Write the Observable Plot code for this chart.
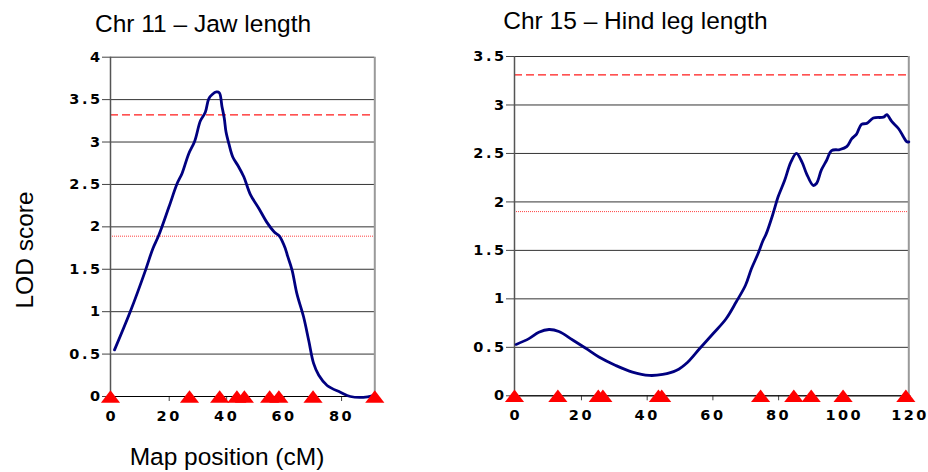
<!DOCTYPE html>
<html>
<head>
<meta charset="utf-8">
<script src="https://cdn.jsdelivr.net/npm/d3@7"></script>
<script src="https://cdn.jsdelivr.net/npm/@observablehq/plot@0.6"></script>
<style>
  body { margin: 0; background: #fff; }
  #wrap { position: relative; width: 928px; height: 472px; overflow: hidden; background: #fff; }
  .panel { position: absolute; top: 0; }
  .panel svg { overflow: visible; }
  .panel svg text { letter-spacing: 2.5px; }
  #labels { position: absolute; left: 0; top: 0; font-family: "Liberation Sans", Arial, sans-serif; }
</style>
</head>
<body>
<div id="wrap">
  <svg id="labels" width="928" height="472">
    <text x="95" y="31.7" font-size="24.5">Chr 11 – Jaw length</text>
    <text x="503.3" y="29.3" font-size="24.5">Chr 15 – Hind leg length</text>
    <text x="227" y="465" font-size="24.5" text-anchor="middle">Map position (cM)</text>
    <text transform="translate(33.3,250) rotate(-90)" font-size="24.5" text-anchor="middle">LOD score</text>
  </svg>
  <div class="panel" id="p1" style="left:0px"></div>
  <div class="panel" id="p2" style="left:464px"></div>
</div>
<script>
// ---- Chr 11 – Jaw length ----
const jawPos = [1.4, 7.0, 12.2, 14.7, 16.8, 20.3, 23.2, 24.9, 27.2, 29.3, 31.3, 33.0, 34.2, 35.4, 36.9, 37.9, 38.8, 39.6, 40.2, 41.2, 42.6, 44.4, 46.4, 48.7, 51.6, 54.5, 57.0, 58.8, 60.9, 61.6, 63.2, 64.9, 67.2, 69.0, 70.7, 72.5, 75.4, 80.0, 83.5, 88.0, 91.5];
const jawLod = [0.55, 1.01, 1.49, 1.74, 1.90, 2.23, 2.51, 2.63, 2.86, 3.01, 3.25, 3.35, 3.51, 3.56, 3.59, 3.58, 3.42, 3.28, 3.12, 2.98, 2.82, 2.72, 2.59, 2.38, 2.22, 2.05, 1.94, 1.89, 1.74, 1.66, 1.49, 1.21, 0.94, 0.66, 0.39, 0.25, 0.13, 0.05, 0.0, -0.01, 0.01];
const jawMarkers = [0, 27.5, 38, 44, 46.6, 55.4, 58.6, 70.5, 92];
const jawXTicks = [0, 20, 40, 60, 80];
const jawYTicks = [0, 0.5, 1, 1.5, 2, 2.5, 3, 3.5, 4];
const jawXMax = 92, jawYMax = 4;
const jawSignificant = 3.32, jawSuggestive = 1.89;

// ---- Chr 15 – Hind leg length ----
const legPos = [0.5, 4.4, 7.4, 10.5, 13.5, 17.6, 21.7, 25.7, 30.8, 35.9, 41.0, 45.1, 49.2, 52.7, 56.3, 60.4, 64.4, 67.5, 70.3, 72.1, 74.1, 75.6, 76.6, 78.7, 80.2, 82.2, 84.1, 85.8, 87.5, 88.9, 90.9, 91.9, 93.4, 95.0, 96.5, 99.0, 101.1, 102.6, 104.1, 105.6, 107.2, 109.2, 112.3, 113.3, 114.8, 116.9, 118.4, 119.4, 120];
const legLod = [0.53, 0.59, 0.656, 0.684, 0.664, 0.578, 0.49, 0.40, 0.313, 0.244, 0.21, 0.22, 0.26, 0.347, 0.485, 0.64, 0.795, 0.97, 1.14, 1.31, 1.465, 1.60, 1.67, 1.88, 2.05, 2.22, 2.41, 2.50, 2.41, 2.29, 2.17, 2.19, 2.33, 2.43, 2.53, 2.54, 2.57, 2.65, 2.70, 2.80, 2.81, 2.865, 2.875, 2.90, 2.83, 2.755, 2.67, 2.62, 2.62];
const legMarkers = [0, 13.2, 25.5, 26.9, 43.8, 44.8, 74.9, 85, 90.3, 100, 119.1];
const legXTicks = [0, 20, 40, 60, 80, 100, 120];
const legYTicks = [0, 0.5, 1, 1.5, 2, 2.5, 3, 3.5];
const legXMax = 120, legYMax = 3.5;
const legSignificant = 3.31, legSuggestive = 1.90;

// Excel-like flat triangle marker
const tri = {
  draw(ctx, size) {
    const r = Math.sqrt(size / Math.PI);
    ctx.moveTo(0, -0.95 * r);
    ctx.lineTo(1.475 * r, 0.95 * r);
    ctx.lineTo(-1.475 * r, 0.95 * r);
    ctx.closePath();
  }
};

function panel(cfg) {
  const curve = cfg.pos.map((p, i) => ({pos: p, lod: cfg.lod[i]}));
  return Plot.plot({
    width: 464,
    height: 472,
    marginLeft: cfg.ml,
    marginRight: cfg.mr,
    marginTop: cfg.mt,
    marginBottom: cfg.mb,
    x: {domain: [0, cfg.xMax]},
    y: {domain: [0, cfg.yMax]},
    style: {fontFamily: "DejaVu Sans", fontSize: "14.5px", fontWeight: "bold", color: "#000", background: "transparent"},
    marks: [
      Plot.gridY(cfg.yTicks, {stroke: "#333", strokeOpacity: 1}),
      Plot.ruleY([cfg.sig], {stroke: "#ff1a1a", strokeWidth: 1.4, strokeDasharray: "8,4"}),
      Plot.ruleY([cfg.sug], {stroke: "#ff4040", strokeWidth: 1, strokeDasharray: "1,1"}),
      Plot.ruleX([cfg.xMax], {stroke: "#9a9a9a", strokeWidth: 2}),
      Plot.ruleX([0], {stroke: "#555", strokeWidth: 1.5}),
      Plot.axisY(cfg.yTicks, {tickSize: 8, tickPadding: 0, label: null, tickFormat: d => String(d), stroke: "#444"}),
      Plot.axisX(cfg.xTicks, {tickSize: 5, tickPadding: 9, dx: 1.25, label: null, tickFormat: d => String(d), stroke: "#444"}),
      Plot.ruleY([0], {stroke: "#000"}),
      Plot.line(curve, {x: "pos", y: "lod", stroke: "#000080", strokeWidth: 2.8, curve: "catmull-rom"}),
      Plot.dot(cfg.markers, {x: d => d, y: () => 0, symbol: tri, r: 6.5, fill: "#ff0000", stroke: null})
    ]
  });
}

document.getElementById("p1").append(panel({
  pos: jawPos, lod: jawLod, markers: jawMarkers, xTicks: jawXTicks, yTicks: jawYTicks,
  xMax: jawXMax, yMax: jawYMax, sig: jawSignificant, sug: jawSuggestive,
  ml: 110, mr: 89.7, mt: 56.7, mb: 76
}));
document.getElementById("p2").append(panel({
  pos: legPos, lod: legLod, markers: legMarkers, xTicks: legXTicks, yTicks: legYTicks,
  xMax: legXMax, yMax: legYMax, sig: legSignificant, sug: legSuggestive,
  ml: 50, mr: 19.7, mt: 56, mb: 76.7
}));
</script>
</body>
</html>
